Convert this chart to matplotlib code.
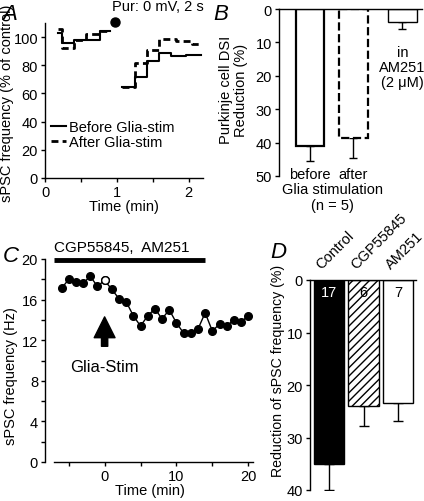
import matplotlib
matplotlib.use('Agg')
import matplotlib.pyplot as plt
from matplotlib.ticker import MultipleLocator

plt.rcParams['font.family'] = ['Liberation Sans', 'DejaVu Sans']
plt.rcParams['font.size'] = 10.5
plt.rcParams['axes.linewidth'] = 1.0
plt.rcParams['xtick.major.width'] = 1.0
plt.rcParams['ytick.major.width'] = 1.0
plt.rcParams['xtick.minor.width'] = 1.0
plt.rcParams['ytick.minor.width'] = 1.0
plt.rcParams['xtick.major.size'] = 3
plt.rcParams['ytick.major.size'] = 3
plt.rcParams['xtick.minor.size'] = 3
plt.rcParams['ytick.minor.size'] = 3
plt.rcParams['xtick.major.pad'] = 2
plt.rcParams['ytick.major.pad'] = 2

# panel A: step traces (time in min, % of control)
before_t1 = [0.18, 0.24, 0.40, 0.77, 0.91]
before_v1 = [103, 95.5, 98, 104.5, 104.5]
after_t1 = [0.18, 0.24, 0.40, 0.57, 0.77, 0.91]
after_v1 = [106, 92, 98, 102, 104.5, 104.5]
before_t2 = [1.07, 1.25, 1.42, 1.59, 1.76, 1.97, 2.17]
before_v2 = [64.5, 72, 83, 89, 86.8, 87.5, 87.5]
after_t2 = [1.07, 1.25, 1.42, 1.59, 1.83, 2.04, 2.17]
after_v2 = [64.5, 81.5, 91, 99, 97.5, 95, 95]
pur_t, pur_v = 0.98, 111

# panel B: DSI reduction
dsi_mean = [41, 38.5, 4]
dsi_err = [4.5, 6, 2]

# panel C: time course
c_time = list(range(-6, 21))
c_freq = [17.1, 18.0, 17.7, 17.6, 18.3, 17.3, 17.9, 17.0, 16.1, 15.8,
          14.4, 13.4, 14.4, 15.1, 14.1, 15.0, 13.7, 12.7, 12.7, 13.1,
          14.7, 12.9, 13.6, 13.4, 14.0, 13.8, 14.4]

# panel D: reduction of sPSC frequency
d_names = ['Control', 'CGP55845', 'AM251']
d_mean = [35, 24, 23.5]
d_err = [5, 3.8, 3.3]
d_n = ['17', '6', '7']

W, H = 424, 502
fig = plt.figure(figsize=(W / 100, H / 100), dpi=100)

def box(l, t, r, b):
    return [l / W, 1 - b / H, (r - l) / W, (b - t) / H]

# ---------------- A ----------------
axA = fig.add_axes(box(45, 24, 203, 179))
axA.step(before_t1, before_v1, where='post', color='black', lw=1.5)
axA.step(after_t1, after_v1, where='post', color='black', lw=2,
         linestyle=(0, (2.5, 1.5)))
axA.step(before_t2, before_v2, where='post', color='black', lw=1.5,
         label='Before Glia-stim')
axA.step(after_t2, after_v2, where='post', color='black', lw=2,
         linestyle=(0, (2.5, 1.5)), label='After Glia-stim')
axA.plot([pur_t], [pur_v], 'o', color='black', ms=6.5, clip_on=False)
axA.text(0.93, 117, 'Pur: 0 mV, 2 s', ha='left', va='bottom')
axA.set_xlim(0, 2.2)
axA.set_ylim(0, 110)
axA.xaxis.set_major_locator(MultipleLocator(1))
axA.xaxis.set_minor_locator(MultipleLocator(0.5))
axA.yaxis.set_major_locator(MultipleLocator(20))
axA.spines[['top', 'right']].set_visible(False)
axA.set_xlabel('Time (min)', labelpad=0)
axA.set_ylabel('sPSC frequency (% of control)')
axA.yaxis.set_label_coords(-0.196, 0.49)
axA.legend(loc='upper left', bbox_to_anchor=(0.04, 0.375), frameon=False,
           handlelength=1.0, handletextpad=0.2, labelspacing=0.05,
           borderpad=0, borderaxespad=0)
fig.text(2 / W, 1 - 20 / H, 'A', fontsize=16, style='italic')

# ---------------- B ----------------
axB = fig.add_axes(box(279, 10, 422, 177))
b_pos = [0.71, 1.71, 2.84]
b_styles = [('solid', 1.6), ('dashed', 1.6), ('solid', 1.0)]
for x, m, e, (ls, lw) in zip(b_pos, dsi_mean, dsi_err, b_styles):
    axB.errorbar(x, m, yerr=[[0], [e]], color='black', lw=1, capsize=3,
                 capthick=1, zorder=1)
    axB.bar(x, m, width=0.66, color='white', edgecolor='black',
            linestyle=ls, linewidth=lw, zorder=2)
axB.set_xlim(0, 3.29)
axB.set_ylim(50, 0)
axB.yaxis.set_major_locator(MultipleLocator(10))
axB.set_xticks([])
axB.spines[['right', 'bottom']].set_visible(False)
axB.set_ylabel('Purkinje cell DSI\nReduction (%)', linespacing=1.05)
axB.yaxis.set_label_coords(-0.217, 0.52)
axB.text(b_pos[0], 49.5, 'before', ha='center', va='center', clip_on=False)
axB.text(b_pos[1], 49.5, 'after', ha='center', va='center', clip_on=False)
axB.text(1.22, 54.0, 'Glia stimulation', ha='center', va='center',
         clip_on=False)
axB.text(1.22, 58.6, '(n = 5)', ha='center', va='center', clip_on=False)
axB.text(2.84, 17.4, 'in\nAM251\n(2 μM)', ha='center', va='center',
         linespacing=1.1, clip_on=False)
fig.text(213 / W, 1 - 20 / H, 'B', fontsize=16, style='italic')

# ---------------- C ----------------
axC = fig.add_axes(box(45, 260, 254, 463))
axC.plot(c_time, c_freq, '-', color='black', lw=1, zorder=2)
axC.plot(c_time, c_freq, 'o', color='black', ms=5.5, zorder=3)
axC.plot([0], [c_freq[c_time.index(0)]], 'o', color='white',
         mec='black', mew=1, ms=5.5, zorder=4)
axC.plot([-7, 14], [19.9, 19.9], color='black', lw=3.5, clip_on=False,
         solid_capstyle='butt')
axC.text(-7, 20.5, 'CGP55845,  AM251', ha='left', va='bottom', fontsize=11)
axC.annotate('', xy=(0, 14.3), xytext=(0, 11.4),
             arrowprops=dict(facecolor='black', edgecolor='black', width=4.5,
                             headwidth=15, headlength=15, shrink=0))
axC.text(0, 9.45, 'Glia-Stim', ha='center', va='center', fontsize=12)
axC.set_xlim(-8.3, 20.8)
axC.set_ylim(0, 20)
axC.xaxis.set_major_locator(MultipleLocator(10))
axC.xaxis.set_minor_locator(MultipleLocator(5))
axC.yaxis.set_major_locator(MultipleLocator(4))
axC.yaxis.set_minor_locator(MultipleLocator(2))
axC.spines[['top', 'right']].set_visible(False)
axC.spines['bottom'].set_bounds(-7, 20.7)
axC.set_xlabel('Time (min)', labelpad=0)
axC.set_ylabel('sPSC frequency (Hz)')
axC.yaxis.set_label_coords(-0.129, 0.43)
fig.text(3 / W, 1 - 262 / H, 'C', fontsize=16, style='italic')

# ---------------- D ----------------
axD = fig.add_axes(box(310, 281, 416, 491))
d_pos = [0, 1, 2]
d_fill = ['black', 'white', 'white']
d_hatch = [None, '////', None]
for x, m, e, fc, h in zip(d_pos, d_mean, d_err, d_fill, d_hatch):
    axD.errorbar(x, m, yerr=[[0], [e]], color='black', lw=1, capsize=3.5,
                 capthick=1, zorder=1)
    axD.bar(x, m, width=0.87, color=fc, edgecolor='black', hatch=h,
            linewidth=1, zorder=2)
for x, n, fc in zip(d_pos, d_n, d_fill):
    axD.text(x, 2.2, n, ha='center', va='center',
             color='white' if fc == 'black' else 'black', zorder=5)
for x, name in zip(d_pos, d_names):
    axD.text(x - 0.15, -1.6, name, rotation=45, ha='left', va='bottom',
             rotation_mode='anchor', clip_on=False)
axD.set_xlim(-0.55, 2.52)
axD.set_ylim(40, 0)
axD.yaxis.set_major_locator(MultipleLocator(10))
axD.set_xticks([])
axD.spines[['right', 'bottom']].set_visible(False)
axD.set_ylabel('Reduction of sPSC frequency (%)', fontsize=10.2)
axD.yaxis.set_label_coords(-0.236, 0.57)
fig.text(270 / W, 1 - 258 / H, 'D', fontsize=16, style='italic')

fig.savefig('out.png', dpi=100)
